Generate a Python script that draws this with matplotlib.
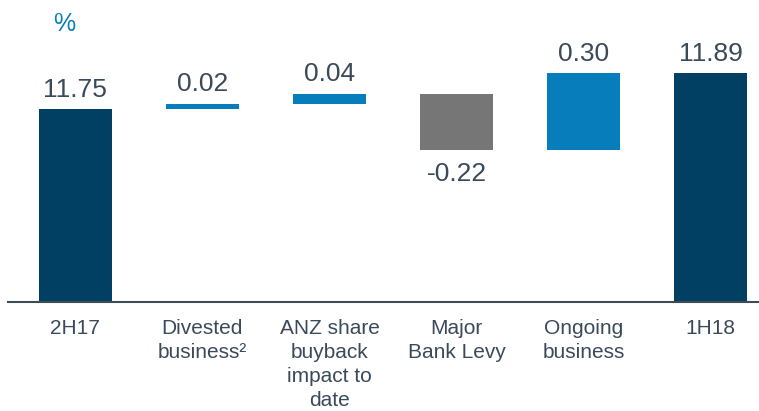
import matplotlib
matplotlib.use("Agg")
import matplotlib.pyplot as plt

categories = ["2H17", "Divested\nbusiness²", "ANZ share\nbuyback\nimpact to\ndate",
              "Major\nBank Levy", "Ongoing\nbusiness", "1H18"]
start_value = 11.75
changes = [0.02, 0.04, -0.22, 0.30]
end_value = 11.89
value_labels = ["11.75", "0.02", "0.04", "-0.22", "0.30", "11.89"]

NAVY = "#024063"
BLUE = "#077DBB"
GREY = "#767676"
TEXT = "#3A4A5A"
BASE = 11.0

plt.rcParams['font.family'] = ['Liberation Sans', 'DejaVu Sans']

fig = plt.figure(figsize=(7.59, 4.11), dpi=100)
ax = fig.add_axes([0.0105, (411 - 302) / 411, 0.9895, 302 / 411])

bottoms, heights, colors = [], [], []
bottoms.append(BASE); heights.append(start_value - BASE); colors.append(NAVY)
running = start_value
for c in changes:
    if c >= 0:
        bottoms.append(running); heights.append(c)
        colors.append(BLUE)
    else:
        bottoms.append(running + c); heights.append(-c)
        colors.append(GREY)
    running += c
bottoms.append(BASE); heights.append(end_value - BASE); colors.append(NAVY)

x = list(range(len(categories)))
ax.bar(x, heights, bottom=bottoms, width=0.57, color=colors, zorder=2)

ax.set_xlim(-0.53, 5.38)
ax.set_ylim(BASE, BASE + 302 / 257)

for i, (b, h, lab) in enumerate(zip(bottoms, heights, value_labels)):
    if lab.startswith("-"):
        ax.annotate(lab, (i, b), xytext=(0, -8.5), textcoords="offset points",
                    ha="center", va="top", fontsize=19, color=TEXT)
    else:
        ax.annotate(lab, (i, b + h), xytext=(0, 5.5), textcoords="offset points",
                    ha="center", va="bottom", fontsize=19, color=TEXT)

for s in ["top", "right", "left"]:
    ax.spines[s].set_visible(False)
ax.spines["bottom"].set_color("#3E4A56")
ax.spines["bottom"].set_linewidth(1.5)
ax.set_yticks([])
ax.set_xticks(x)
ax.set_xticklabels(categories, fontsize=15, color=TEXT, linespacing=1.33, va="top")
ax.tick_params(axis="x", length=0, pad=12)

fig.text(64 / 759, 1 - 24 / 411, "%", fontsize=18, color=BLUE, ha="center", va="center")

fig.savefig("out.png", dpi=100)
